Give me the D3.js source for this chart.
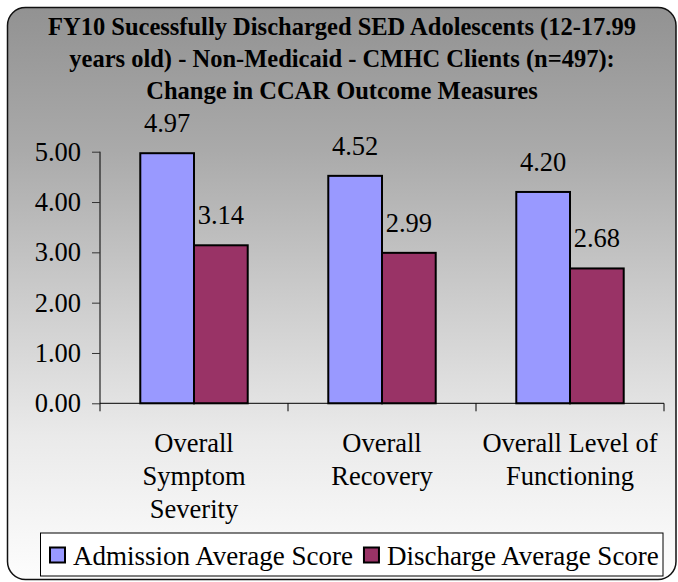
<!DOCTYPE html>
<html>
<head>
<meta charset="utf-8">
<script src="https://cdn.jsdelivr.net/npm/d3@7"></script>
</head>
<body style="margin:0">
<svg id="chart" width="678" height="582" font-family="Times New Roman"></svg>
<script>
// ---- data ----
const titleLines = [
  "FY10 Sucessfully Discharged SED Adolescents (12-17.99",
  "years old) - Non-Medicaid - CMHC Clients (n=497):",
  "Change in CCAR Outcome Measures"
];
const categories = ["Overall Symptom Severity", "Overall Recovery", "Overall Level of Functioning"];
const categoryLines = [["Overall", "Symptom", "Severity"], ["Overall", "Recovery"], ["Overall Level of", "Functioning"]];
const seriesNames = ["Admission Average Score", "Discharge Average Score"];
const admission = [4.97, 4.52, 4.20];
const discharge = [3.14, 2.99, 2.68];
const yTicks = [0, 1, 2, 3, 4, 5];
const seriesColors = ["#9999FF", "#993366"];

// ---- layout ----
const FONT = "Times New Roman";
const svg = d3.select("#chart");
const plot = { left: 100, right: 664, top: 151.7, bottom: 403.3 };
const FS = 26.5;
const LFS = 27;
const TFS = 24.5;

function txt(sel) {
  return sel.attr("font-family", FONT).style("font-family", FONT).attr("fill", "#000");
}

const defs = svg.append("defs");
const grad = defs.append("linearGradient").attr("id", "bg").attr("x1", 0).attr("y1", 0).attr("x2", 0).attr("y2", 1);
[["0%", "#929292"], ["25%", "#aaaaaa"], ["50%", "#cbcbcb"], ["75%", "#eaeaea"], ["100%", "#fdfdfd"]]
  .forEach(([o, c]) => grad.append("stop").attr("offset", o).attr("stop-color", c));

svg.append("rect")
  .attr("x", 7.5).attr("y", 7.5).attr("width", 668.5).attr("height", 572)
  .attr("rx", 18).attr("ry", 18)
  .attr("fill", "url(#bg)").attr("stroke", "#111").attr("stroke-width", 1.5);

// title
svg.append("g").selectAll("text").data(titleLines).join("text")
  .attr("x", 342).attr("y", (d, i) => 35 + i * 32)
  .attr("text-anchor", "middle")
  .attr("font-size", TFS).attr("font-weight", "bold")
  .call(txt)
  .text(d => d);

// scales
const x0 = d3.scaleBand().domain(categories).range([plot.left, plot.right]).paddingInner(0).paddingOuter(0);
const x1 = d3.scaleBand().domain(seriesNames).range([0, x0.bandwidth()]).paddingInner(0).paddingOuter(0.75);
const y = d3.scaleLinear().domain([0, 5]).range([plot.bottom, plot.top]);

const table = categories.map((c, i) => ({ cat: c, values: [admission[i], discharge[i]] }));

// y axis
const yAxis = svg.append("g").attr("transform", `translate(${plot.left},0)`)
  .call(d3.axisLeft(y).tickValues(yTicks).tickFormat(d3.format(".2f")).tickSize(8).tickPadding(11));
yAxis.attr("font-family", FONT).attr("font-size", FS);
yAxis.select(".domain").attr("stroke", "#000").attr("d", `M-0,${plot.top}H0V${plot.bottom}`);
yAxis.selectAll(".tick line").attr("stroke", "#333");
yAxis.selectAll(".tick text").attr("font-size", FS).call(txt);

// bars
const groups = svg.append("g").selectAll("g").data(table).join("g")
  .attr("transform", d => `translate(${x0(d.cat)},0)`);
groups.selectAll("rect").data(d => d.values.map((v, j) => ({ v, s: seriesNames[j], j }))).join("rect")
  .attr("x", d => x1(d.s)).attr("width", x1.bandwidth())
  .attr("y", d => y(d.v)).attr("height", d => y(0) - y(d.v))
  .attr("fill", d => seriesColors[d.j]).attr("stroke", "#000").attr("stroke-width", 2);
groups.selectAll("text.val").data(d => d.values.map((v, j) => ({ v, s: seriesNames[j], j }))).join("text")
  .attr("class", "val")
  .attr("x", d => x1(d.s) + x1.bandwidth() / 2).attr("y", d => y(d.v) - 21)
  .attr("text-anchor", "middle").attr("font-size", FS).call(txt)
  .text(d => d3.format(".2f")(d.v));

// x axis
const xAxis = svg.append("g");
xAxis.append("line").attr("x1", plot.left).attr("x2", plot.right).attr("y1", plot.bottom).attr("y2", plot.bottom).attr("stroke", "#000");
const bounds = categories.map(c => x0(c)).concat([x0.range()[1]]);
xAxis.selectAll("line.tk").data(bounds).join("line").attr("class", "tk")
  .attr("x1", d => d).attr("x2", d => d).attr("y1", plot.bottom).attr("y2", plot.bottom + 8).attr("stroke", "#000");
const catText = xAxis.selectAll("text").data(categories).join("text")
  .attr("text-anchor", "middle").attr("font-size", FS).call(txt);
catText.each(function (c, i) {
  const t = d3.select(this);
  categoryLines[i].forEach((ln, k) => {
    t.append("tspan").attr("x", x0(c) + x0.bandwidth() / 2).attr("y", plot.bottom + 48.4 + k * 33.3).text(ln);
  });
});

// legend
const leg = svg.append("g");
leg.append("rect").attr("x", 40.5).attr("y", 533).attr("width", 622.5).attr("height", 43)
  .attr("fill", "#fff").attr("stroke", "#000").attr("stroke-width", 1);
let lx = 49;
seriesNames.forEach((s, j) => {
  leg.append("rect").attr("x", lx + 1).attr("y", 547.5).attr("width", 15).attr("height", 15)
    .attr("fill", seriesColors[j]).attr("stroke", "#000").attr("stroke-width", 2);
  const t = leg.append("text").attr("x", lx + 24).attr("y", 565)
    .attr("font-size", LFS).call(txt).text(s);
  lx = lx + 24 + t.node().getComputedTextLength() + 10;
});
</script>
</body>
</html>
